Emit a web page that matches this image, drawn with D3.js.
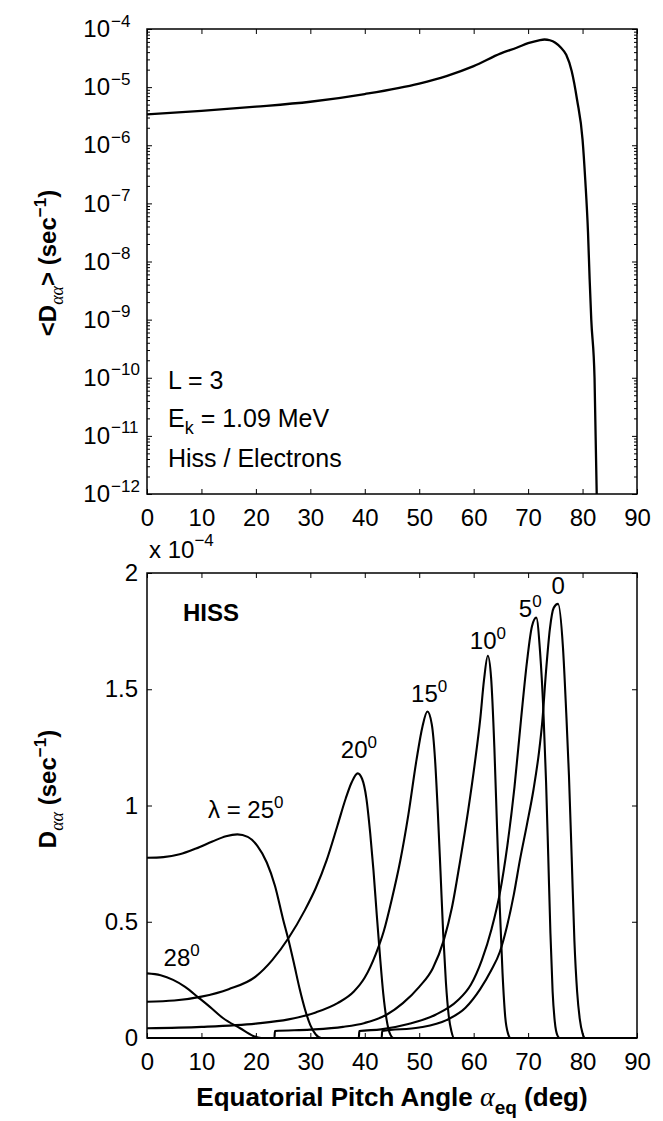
<!DOCTYPE html>
<html>
<head>
<meta charset="utf-8">
<script src="https://cdn.jsdelivr.net/npm/d3@7"></script>
<style>
  body { margin: 0; background: #fff; }
  svg { display: block; }
  text { font-family: "Liberation Sans", Arial, Helvetica, sans-serif; fill: #000; }
</style>
</head>
<body>
<div id="chart"></div>
<script>
// ---- data ----
const xTicks = [0, 10, 20, 30, 40, 50, 60, 70, 80, 90];
const logTicks = [1e-12, 1e-11, 1e-10, 1e-9, 1e-8, 1e-7, 1e-6, 1e-5, 1e-4];
const linTicks = [0, 0.5, 1, 1.5, 2];
const linTickLabels = ['0', '0.5', '1', '1.5', '2'];

// bounce-averaged <Daa> (sec^-1), L = 3, Ek = 1.09 MeV
const avgAngle = [0, 10, 20, 30, 40, 50, 55, 60, 65, 68, 70, 72, 73, 74, 75, 76, 77, 78, 79, 80, 80.5, 81, 81.3, 81.6, 82.2, 82.6, 82.8];
const avgDaa = [3.4e-6, 3.9e-6, 4.6e-6, 5.6e-6, 7.6e-6, 1.15e-5, 1.55e-5, 2.3e-5, 3.8e-5, 4.8e-5, 5.7e-5, 6.4e-5, 6.6e-5, 6.4e-5, 5.8e-5, 4.8e-5, 3.6e-5, 1.9e-5, 6.0e-6, 1.25e-6, 2.5e-7, 3.2e-8, 5e-9, 1e-9, 1e-10, 1e-12, 3e-13];

// local Daa (x 1e-4 sec^-1) at each latitude, [pitch angle, Daa]
const lat0 = [[0, 0], [43.1, 0], [43.2, 0.03], [50, 0.045], [55, 0.077], [58.5, 0.13], [61.2, 0.21], [63.2, 0.29], [64.8, 0.37], [66.1, 0.479], [67.4, 0.62], [68.5, 0.766], [69.8, 0.92], [71, 1.07], [72, 1.23], [72.6, 1.36], [73.3, 1.58], [74, 1.76], [74.7, 1.85], [75.5, 1.867], [76.4, 1.68], [77, 1.4], [77.5, 1.13], [78, 0.78], [78.5, 0.42], [79, 0.2], [79.5, 0.08], [80, 0.02], [80.5, 0], [90, 0]];
const lat5 = [[0, 0], [38.9, 0], [39, 0.03], [43, 0.037], [48, 0.06], [53, 0.1], [57, 0.16], [59.5, 0.23], [61.5, 0.335], [63.3, 0.47], [64.8, 0.622], [66.2, 0.83], [67.5, 1.08], [68.7, 1.37], [69.8, 1.62], [70.7, 1.77], [71.5, 1.808], [72.2, 1.66], [72.8, 1.41], [73.3, 1.1], [73.7, 0.78], [74.1, 0.45], [74.5, 0.2], [74.9, 0.07], [75.4, 0.01], [75.8, 0], [90, 0]];
const lat10 = [[0, 0], [23.4, 0], [23.5, 0.03], [30, 0.036], [36, 0.048], [40, 0.065], [44, 0.1], [47, 0.15], [50, 0.22], [52.5, 0.3], [54.5, 0.42], [56, 0.56], [57.5, 0.76], [59, 0.98], [60.2, 1.18], [61.2, 1.37], [61.9, 1.54], [62.6, 1.644], [63.2, 1.55], [63.8, 1.25], [64.3, 0.9], [64.8, 0.56], [65.3, 0.28], [65.8, 0.09], [66.3, 0.02], [66.8, 0], [90, 0]];
const lat15 = [[0, 0.042], [10, 0.048], [20, 0.062], [26, 0.08], [31, 0.11], [35, 0.15], [38, 0.2], [40, 0.26], [42, 0.36], [43.5, 0.46], [45, 0.6], [46.5, 0.76], [48, 0.96], [49.5, 1.196], [50.6, 1.34], [51.5, 1.404], [52.3, 1.35], [52.9, 1.2], [53.4, 0.98], [53.9, 0.72], [54.4, 0.45], [54.9, 0.24], [55.4, 0.1], [55.9, 0.03], [56.4, 0], [90, 0]];
const lat20 = [[0, 0.156], [5, 0.161], [10, 0.178], [15, 0.21], [20, 0.265], [23, 0.335], [26, 0.43], [29, 0.55], [31, 0.645], [33, 0.765], [35, 0.915], [36.5, 1.03], [37.6, 1.1], [38.7, 1.138], [39.5, 1.115], [40.3, 1.03], [41, 0.88], [41.6, 0.72], [42.2, 0.53], [42.8, 0.35], [43.4, 0.19], [44, 0.08], [44.6, 0.02], [45.3, 0], [90, 0]];
const lat25 = [[0, 0.775], [3, 0.778], [6, 0.79], [9, 0.815], [12, 0.845], [14.5, 0.868], [16.6, 0.876], [18.5, 0.865], [20.3, 0.825], [22, 0.755], [23.5, 0.655], [25, 0.51], [26, 0.42], [27, 0.32], [28, 0.215], [29, 0.125], [30, 0.055], [31, 0.015], [32, 0], [90, 0]];
const lat28 = [[0, 0.278], [2.5, 0.27], [4.8, 0.25], [7, 0.22], [9.4, 0.175], [11.5, 0.135], [14, 0.085], [17.1, 0.042], [19.5, 0.009], [21, 0], [90, 0]];
const latSeries = [lat0, lat5, lat10, lat15, lat20, lat25, lat28];

// ---- layout ----
const width = 663, height = 1121;
const left = 147, right = 637;
const topPanel = { top: 29, bottom: 494 };
const botPanel = { top: 573, bottom: 1038 };
const tickFont = 24, supFont = 17;

const svg = d3.select('#chart').append('svg')
  .attr('width', width)
  .attr('height', height);

const x = d3.scaleLinear().domain([0, 90]).range([left, right]);
const yLog = d3.scaleLog().domain([1e-12, 1e-4]).range([topPanel.bottom, topPanel.top]);
const yLin = d3.scaleLinear().domain([0, 2]).range([botPanel.bottom, botPanel.top]);

// inward ticks on all four sides, plus frame
function drawFrame(y, yTickValues, yMinor) {
  const g = svg.append('g');
  const y0 = y.range()[0], y1 = y.range()[1];

  g.append('g')
    .attr('class', 'x-axis')
    .attr('transform', `translate(0, ${y0})`)
    .call(d3.axisBottom(x).tickValues(xTicks).tickSize(-5).tickSizeOuter(0).tickPadding(15))
    .attr('font-size', tickFont);

  g.append('g')
    .attr('transform', `translate(0, ${y1})`)
    .call(d3.axisTop(x).tickValues(xTicks).tickSize(-5).tickSizeOuter(0).tickFormat(''));

  const gy = g.append('g')
    .attr('class', 'y-axis')
    .attr('transform', `translate(${left}, 0)`)
    .call(d3.axisLeft(y).tickValues(yTickValues).tickSize(-5).tickSizeOuter(0).tickPadding(9))
    .attr('font-size', tickFont);

  g.append('g')
    .attr('transform', `translate(${right}, 0)`)
    .call(d3.axisRight(y).tickValues(yTickValues).tickSize(-5).tickSizeOuter(0).tickFormat(''));

  if (yMinor) {
    g.append('g')
      .attr('transform', `translate(${left}, 0)`)
      .call(d3.axisLeft(y).tickValues(yMinor).tickSize(-3).tickSizeOuter(0).tickFormat(''));
    g.append('g')
      .attr('transform', `translate(${right}, 0)`)
      .call(d3.axisRight(y).tickValues(yMinor).tickSize(-3).tickSizeOuter(0).tickFormat(''));
  }

  g.selectAll('.domain').remove();
  g.selectAll('.tick line').attr('stroke', '#000').attr('stroke-width', 1);

  g.append('rect')
    .attr('x', left)
    .attr('y', y1)
    .attr('width', right - left)
    .attr('height', y0 - y1)
    .attr('fill', 'none')
    .attr('stroke', '#000')
    .attr('stroke-width', 1.5);

  return gy;
}

// ---- top panel: bounce averaged ----
const minorTicks = d3.range(-12, -4).flatMap(e => d3.range(2, 10).map(k => k * Math.pow(10, e)));
const gyTop = drawFrame(yLog, logTicks, minorTicks);

// "10" plus superscript exponent
gyTop.selectAll('.tick text').remove();
gyTop.selectAll('.tick').append('text')
  .attr('x', -37)
  .attr('dy', '0.32em')
  .attr('text-anchor', 'end')
  .text('10');
gyTop.selectAll('.tick').append('text')
  .attr('x', -36)
  .attr('y', -3)
  .attr('font-size', supFont)
  .attr('text-anchor', 'start')
  .text(d => '\u2212' + Math.round(-Math.log10(d)));

svg.append('clipPath').attr('id', 'clip-top')
  .append('rect')
  .attr('x', left).attr('y', topPanel.top)
  .attr('width', right - left).attr('height', topPanel.bottom - topPanel.top);

const lineTop = d3.line()
  .x((d, i) => x(avgAngle[i]))
  .y(d => yLog(d))
  .curve(d3.curveMonotoneX);

svg.append('path')
  .datum(avgDaa)
  .attr('clip-path', 'url(#clip-top)')
  .attr('d', lineTop)
  .attr('fill', 'none')
  .attr('stroke', '#000')
  .attr('stroke-width', 2.3);

// annotation block
const noteFont = 25;
const note = svg.append('g').attr('font-size', noteFont);
note.append('text').attr('x', 168).attr('y', 389).text('L = 3');
const ek = note.append('text').attr('x', 168).attr('y', 427);
ek.append('tspan').text('E');
ek.append('tspan').attr('dy', 7).attr('font-size', 18).text('k');
ek.append('tspan').attr('dy', -7).text(' = 1.09 MeV');
note.append('text').attr('x', 168).attr('y', 467).text('Hiss / Electrons');

// y label (top)
const ylabTop = svg.append('text')
  .attr('transform', `translate(56, 263) rotate(-90)`)
  .attr('text-anchor', 'middle')
  .attr('font-size', 24)
  .attr('font-weight', 'bold');
ylabTop.append('tspan').text('<D');
ylabTop.append('tspan').attr('dy', 7).attr('font-size', 18).attr('font-weight', 'normal')
  .attr('font-style', 'italic').style('font-family', '"Liberation Serif", serif').text('\u03b1\u03b1');
ylabTop.append('tspan').attr('dy', -7).text('> (sec');
ylabTop.append('tspan').attr('dy', -10).attr('font-size', 17).text('\u22121');
ylabTop.append('tspan').attr('dy', 10).text(')');

// ---- bottom panel: local Daa by latitude ----
const gyBot = drawFrame(yLin, linTicks, null);
gyBot.selectAll('.tick text').text((d, i) => linTickLabels[i]);

// scale factor
const mult = svg.append('text').attr('x', 149).attr('y', 558).attr('font-size', 24);
mult.append('tspan').text('x 10');
mult.append('tspan').attr('dy', -12).attr('font-size', supFont).text('\u22124');

const lineBot = d3.line()
  .x(d => x(d[0]))
  .y(d => yLin(d[1]))
  .curve(d3.curveMonotoneX);

svg.append('g')
  .selectAll('path.lat')
  .data(latSeries)
  .join('path')
  .attr('class', 'lat')
  .attr('d', lineBot)
  .attr('fill', 'none')
  .attr('stroke', '#000')
  .attr('stroke-width', 2.1);

svg.append('text')
  .attr('x', x(6.6)).attr('y', yLin(1.794))
  .attr('font-size', 24).attr('font-weight', 'bold')
  .text('HISS');

// curve labels anchored at baseline start, in data units
const curveLabels = [
  { t: '0', s: '', a: 74.3, v: 1.91 },
  { t: '5', s: '0', a: 68.3, v: 1.812 },
  { t: '10', s: '0', a: 59.3, v: 1.672 },
  { t: '15', s: '0', a: 48.5, v: 1.446 },
  { t: '20', s: '0', a: 35.6, v: 1.203 },
  { t: '\u03bb = 25', s: '0', a: 11.2, v: 0.945 },
  { t: '28', s: '0', a: 3.05, v: 0.31 }
];
curveLabels.forEach(l => {
  const t = svg.append('text')
    .attr('x', x(l.a)).attr('y', yLin(l.v))
    .attr('font-size', tickFont);
  t.append('tspan').text(l.t);
  if (l.s) t.append('tspan').attr('dy', -10).attr('font-size', supFont).text(l.s);
});

// y label (bottom)
const ylabBot = svg.append('text')
  .attr('transform', `translate(56, 789) rotate(-90)`)
  .attr('text-anchor', 'middle')
  .attr('font-size', 24)
  .attr('font-weight', 'bold');
ylabBot.append('tspan').text('D');
ylabBot.append('tspan').attr('dy', 7).attr('font-size', 18).attr('font-weight', 'normal')
  .attr('font-style', 'italic').style('font-family', '"Liberation Serif", serif').text('\u03b1\u03b1');
ylabBot.append('tspan').attr('dy', -7).text(' (sec');
ylabBot.append('tspan').attr('dy', -10).attr('font-size', 17).text('\u22121');
ylabBot.append('tspan').attr('dy', 10).text(')');

// x label
const xlab = svg.append('text')
  .attr('x', (left + right) / 2)
  .attr('y', 1106)
  .attr('text-anchor', 'middle')
  .attr('font-size', 26)
  .attr('font-weight', 'bold');
xlab.append('tspan').text('Equatorial Pitch Angle ');
xlab.append('tspan').attr('font-weight', 'normal').attr('font-style', 'italic')
  .style('font-family', '"Liberation Serif", serif').attr('font-size', 28).text('\u03b1');
xlab.append('tspan').attr('dy', 8).attr('font-size', 19).text('eq');
xlab.append('tspan').attr('dy', -8).text(' (deg)');
</script>
</body>
</html>
